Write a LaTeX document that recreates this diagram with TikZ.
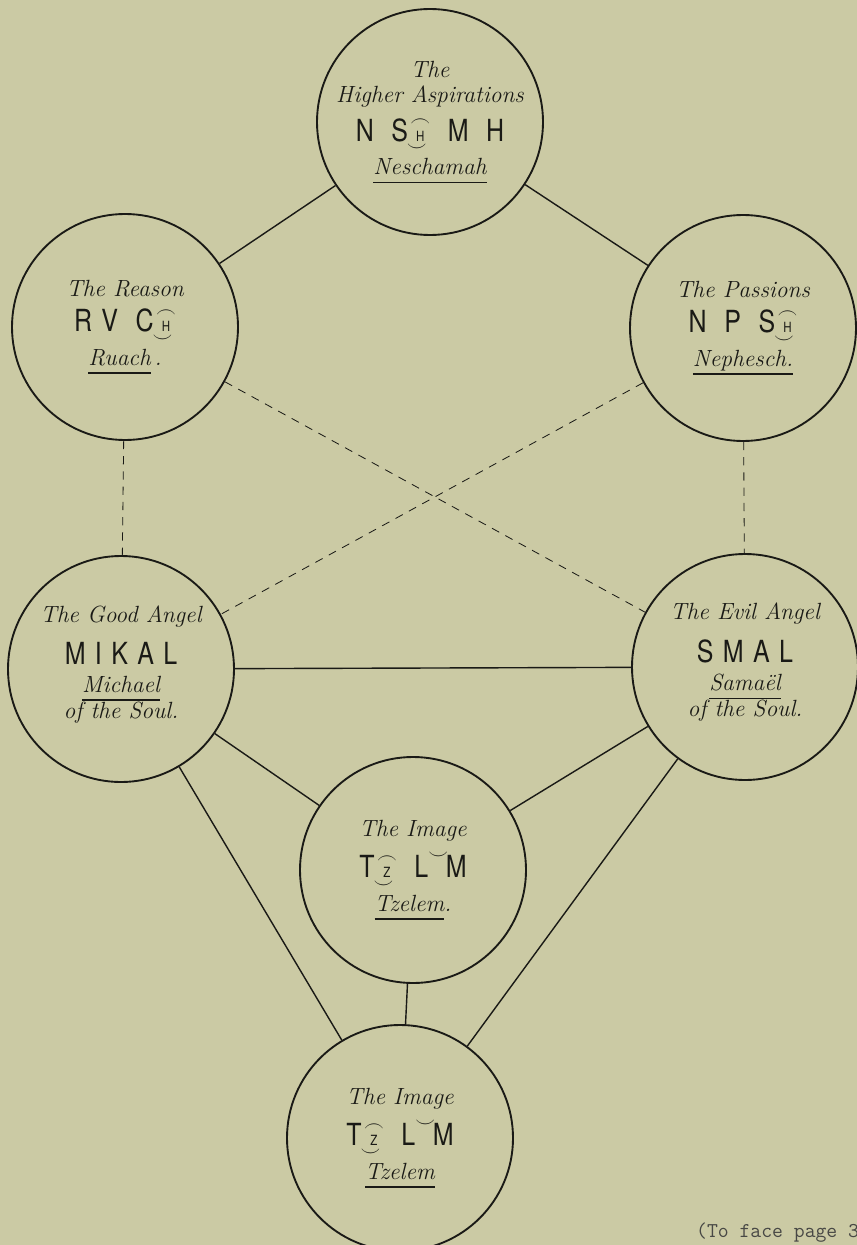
\documentclass[tikz,border=0pt]{standalone}
\usepackage{amsmath,amssymb}
\usepackage{fontspec}
\newfontfamily\capsfont[FakeStretch=0.82]{TeX Gyre Heros}
\usetikzlibrary{positioning,calc}
\usepackage{xcolor}
\definecolor{paper}{RGB}{203,202,164}
\definecolor{ink}{RGB}{26,26,22}

\newcommand{\capgap}{\kern8pt}
\newcommand{\widegap}{\kern15pt}
\newcommand{\minorcap}[1]{\hbox{\fontsize{12}{12}\selectfont #1}}
\newcommand{\arched}[1]{\kern2pt\ooalign{\hfil\minorcap{#1}\hfil\cr\hfil\raisebox{12pt}{$\scriptstyle\frown$}\hfil\cr\hfil\kern-6pt\raisebox{-9pt}{$\scriptstyle\smile$}\hfil\cr}}
\newcommand{\caps}[1]{{\capsfont\upshape\fontsize{26}{22}\selectfont #1}}
\newcommand{\nameline}[1]{\setbox0\hbox{#1}\rlap{\rule[-7pt]{\wd0}{1.2pt}}\box0}
\newcommand{\breveup}{\raisebox{16pt}{$\scriptstyle\smile$}}

\begin{document}
\begin{tikzpicture}[
    x=0.3mm, y=-0.3mm,
    orb/.style={circle, draw=ink, line width=1.6pt, minimum size=67.8mm, inner sep=0pt},
    words/.style={align=center, text=ink, inner sep=0pt, font=\itshape\fontsize{20}{22}\selectfont},
    bondline/.style={draw=ink, line width=1.2pt},
    dashline/.style={draw=ink, line width=0.7pt, dash pattern=on 7pt off 6pt}
]
    \fill[paper] (0,0) rectangle (857,1245);
    \useasboundingbox (0,0) rectangle (857,1245);

    \node[orb] (nesh) at (430,122) {};
    \node[orb] (ruach) at (125,327) {};
    \node[orb] (neph) at (743,328) {};
    \node[orb] (mikal) at (121,669) {};
    \node[orb] (smal) at (745,667) {};
    \node[orb] (image) at (413,870) {};
    \node[orb] (tzelem) at (400,1138) {};

    \node[words] (neshtxt) at (nesh) {The\\Higher Aspirations\\[8pt]\caps{N\widegap S\arched{H}\widegap M\widegap H}\\[5pt]\nameline{Neschamah}};
    \node[words] (ruachtxt) at (ruach) {The Reason\\[8pt]\caps{R\capgap V\widegap C\arched{H}}\\[5pt]\nameline{Ruach}\,.};
    \node[words] (nephtxt) at (neph) {The Passions\\[8pt]\caps{N\widegap P\widegap S\arched{H}}\\[5pt]\nameline{Nephesch.}};
    \node[words] (mikaltxt) at ([yshift=4]mikal) {The Good Angel\\[12pt]\caps{M\capgap I\capgap K\capgap A\capgap L}\\[2pt]\nameline{Michael}\\of the Soul.};
    \node[words] (smaltxt) at ([yshift=4]smal) {The Evil Angel\\[12pt]\caps{S\capgap M\capgap A\capgap L}\\[2pt]\nameline{Samaël}\\of the Soul.};
    \node[words] (imagetxt) at (image) {The Image\\[8pt]\caps{T\arched{Z}\widegap L\breveup\kern-2pt M}\\[5pt]\nameline{Tzelem}.};
    \node[words] (tzelemtxt) at (tzelem) {The Image\\[8pt]\caps{T\arched{Z}\widegap L\breveup\kern-2pt M}\\[5pt]\nameline{Tzelem}};

    \draw[bondline] (nesh) -- (ruach);
    \draw[bondline] (nesh) -- (neph);
    \draw[bondline] (mikal) -- (smal);
    \draw[bondline] (mikal) -- (image);
    \draw[bondline] (smal) -- (image);
    \draw[bondline] (mikal) -- (tzelem);
    \draw[bondline] (smal) -- (tzelem);
    \draw[bondline] (image) -- (tzelem);

    \draw[dashline] (ruach) -- (mikal);
    \draw[dashline] (neph) -- (smal);
    \draw[dashline] (ruach) -- (smal);
    \draw[dashline] (neph) -- (mikal);

    \node[anchor=base west, font=\ttfamily\fontsize{18}{20}\selectfont, text=ink!80] (facing) at (692,1237) {(To face page 3};
\end{tikzpicture}
\end{document}
